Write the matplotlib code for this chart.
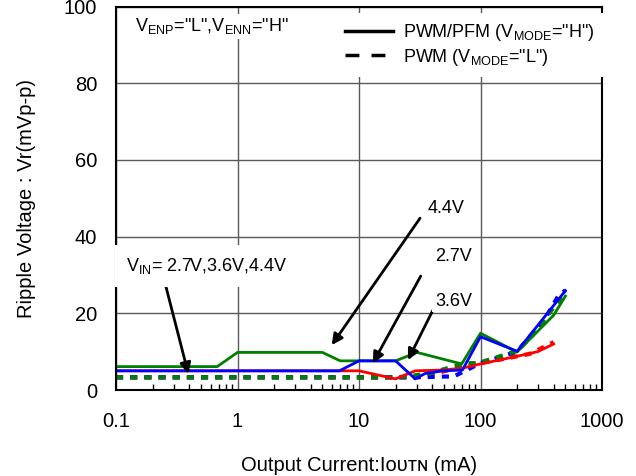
import numpy as np
import matplotlib
matplotlib.use('Agg')
import matplotlib.pyplot as plt
from matplotlib.lines import Line2D

plt.rcParams['font.family'] = ['Liberation Sans', 'DejaVu Sans']
plt.rcParams['mathtext.fontset'] = 'custom'
plt.rcParams['mathtext.rm'] = 'Liberation Sans'
plt.rcParams['mathtext.it'] = 'Liberation Sans'
plt.rcParams['mathtext.bf'] = 'Liberation Sans'
plt.rcParams['mathtext.default'] = 'regular'

# PWM/PFM (solid) curves, VIN = 4.4V / 2.7V / 3.6V
x_44 = [0.1, 0.68, 1, 5, 7, 20, 30, 70, 100, 200, 400, 500]
y_44 = [6.1, 6.1, 9.8, 9.8, 7.6, 7.6, 9.8, 6.8, 14.8, 9.9, 19.5, 24.5]
x_27 = [0.1, 6.9, 10, 20, 29, 35, 49, 71, 100, 200, 500]
y_27 = [5.0, 5.0, 7.6, 7.6, 2.9, 4.3, 5.0, 5.2, 13.9, 10.1, 25.9]
x_36 = [0.1, 10, 20, 29, 49, 71, 100, 200, 296, 400]
y_36 = [5.0, 5.0, 2.9, 5.0, 5.2, 5.7, 6.8, 8.8, 10.0, 12.0]

# PWM (dashed) curves
xd_44 = [0.1, 20, 24, 38, 59, 77, 95, 120, 200, 256, 423, 500]
yd_44 = [3.3, 3.3, 3.5, 4.3, 6.1, 7.0, 7.0, 8.0, 10.2, 13.5, 22.5, 25.0]
xd_27 = [0.1, 30, 49, 60, 100, 200, 240, 290, 340, 436, 500]
yd_27 = [3.3, 3.3, 3.5, 3.5, 7.0, 10.0, 13.0, 16.0, 18.6, 24.5, 26.0]
xd_36 = [0.1, 30, 59, 100, 149, 253, 347, 400]
yd_36 = [3.3, 3.3, 5.4, 7.0, 8.0, 9.4, 11.5, 12.5]

xticks = [0.1, 1, 10, 100, 1000]
xticklabels = ['0.1', '1', '10', '100', '1000']
yticks = [0, 20, 40, 60, 80, 100]

# (label, text position, arrow start, arrow tip)
notes = [
    ('4.4V', (37, 47.4), (31.8, 44.8), (5.96, 11.7)),
    ('2.7V', (42.2, 34.9), (32.2, 29.7), (13.0, 7.0)),
    ('3.6V', (42.2, 23.2), (40.4, 20.7), (25.3, 7.8)),
]

fig = plt.figure(figsize=(6.36, 4.76), dpi=100)
ax = fig.add_axes([116/636, 1-390/476, 486/636, 383.5/476])

dash = (0, (1.7, 1.7))
ax.plot(xd_36, yd_36, color='#ff0000', lw=3, linestyle=dash)
ax.plot(xd_27, yd_27, color='#0000ff', lw=3, linestyle=dash)
ax.plot(xd_44, yd_44, color='#008000', lw=3, linestyle=dash)
ax.plot(x_36, y_36, color='#ff0000', lw=2)
ax.plot(x_44, y_44, color='#008000', lw=2)
ax.plot(x_27, y_27, color='#0000ff', lw=2)

ax.set_xscale('log')
ax.set_xlim(0.1, 1000)
ax.set_ylim(0, 100)
ax.set_xticks(xticks)
ax.set_xticklabels(xticklabels)
ax.set_yticks(yticks)
ax.grid(True, which='major', color='#5a5a5a', lw=1)
ax.tick_params(which='both', direction='in', labelsize=14.5)
ax.tick_params(axis='x', which='major', length=0, pad=16)
ax.tick_params(axis='y', which='major', length=0, pad=13.5)
ax.tick_params(axis='x', which='minor', length=4, width=1)
for s in ax.spines.values():
    s.set_linewidth(1.5)

ax.set_ylabel('Ripple Voltage : Vr(mVp-p)', fontsize=14.5, labelpad=20)
ax.set_xlabel('Output Current:I\u1d0f\u1d1c\u1d1b\u0274 (mA)', fontsize=14.5, labelpad=18)

box = dict(facecolor='white', edgecolor='none', pad=2)
for lab, tpos, start, tip in notes:
    ax.annotate('', xy=tip, xytext=start,
                arrowprops=dict(arrowstyle='-|>', color='black', lw=2,
                                mutation_scale=16, shrinkA=0, shrinkB=0))
    ax.text(tpos[0], tpos[1], lab, fontsize=13, va='center', ha='left', bbox=box)

ax.annotate('', xy=(0.394, 4.2), xytext=(0.256, 27.3),
            arrowprops=dict(arrowstyle='-|>', color='black', lw=2,
                            mutation_scale=16, shrinkA=0, shrinkB=0))
ax.text(0.121, 32.3, 'V$_{IN}$= 2.7V,3.6V,4.4V', fontsize=13, va='center', ha='left',
        bbox=dict(facecolor='white', edgecolor='none', pad=8))
ax.text(0.143, 94.8, 'V$_{ENP}$="L",V$_{ENN}$="H"', fontsize=13, va='center', ha='left',
        bbox=box, zorder=4)

handles = [Line2D([], [], color='black', lw=2.5),
           Line2D([], [], color='black', lw=2.5, linestyle=(0, (4, 3.5)))]
leg = fig.legend(handles, ['PWM/PFM (V$_{MODE}$="H")', 'PWM (V$_{MODE}$="L")'],
                 loc='upper left', bbox_to_anchor=(336/636, 1-13/476),
                 fontsize=13, frameon=True, fancybox=False, framealpha=1,
                 facecolor='white', edgecolor='none', borderpad=0.5,
                 handlelength=2.66, handletextpad=0.55, labelspacing=0.2,
                 borderaxespad=0)

# title line, cut off by the top edge as in the source image
fig.text(410/636, 1+3/476, 'V$_{IN}$=3.6V, V$_{ZN}$=-5.0V, I$_{ZN}$=0mA',
         fontsize=13, ha='center', va='baseline')

fig.savefig('out.png', dpi=100)
